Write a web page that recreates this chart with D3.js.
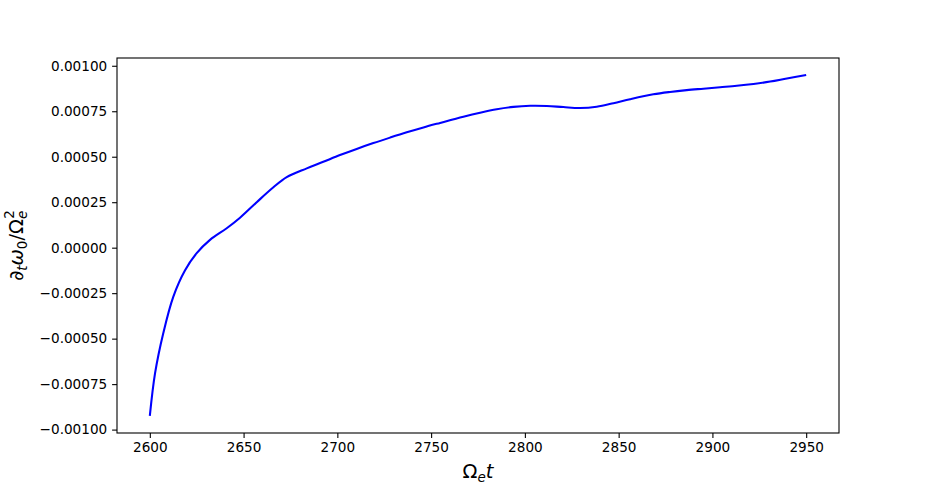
<!DOCTYPE html>
<html><head><meta charset="utf-8">
<script src="https://cdn.jsdelivr.net/npm/d3@7"></script>
<style>body{margin:0;background:#fff}svg{display:block}text{font-family:"DejaVu Sans",sans-serif}</style>
</head><body><svg id="c" width="932" height="487"></svg>
<script>
const tValues = [2600, 2602.8, 2607.2, 2612.5, 2618.8, 2625.0, 2632.1, 2641.0, 2648.1, 2657.0, 2665.9, 2673.0, 2683.7, 2692.5, 2701.4, 2710.3, 2719.2, 2728.1, 2737.0, 2745.9, 2754.8, 2767.2, 2776.1, 2785.0, 2793.9, 2802.8, 2811.7, 2820.5, 2829.4, 2838.3, 2847.2, 2856.1, 2868.5, 2877.4, 2886.3, 2895.2, 2904.1, 2913.0, 2921.9, 2930.8, 2939.7, 2950];
const dwValues = [-0.000925, -0.000690, -0.000469, -0.000270, -0.000124, -0.000030, 0.000043, 0.000107, 0.000165, 0.000250, 0.000332, 0.000388, 0.000436, 0.000472, 0.000509, 0.000543, 0.000575, 0.000605, 0.000634, 0.000661, 0.000686, 0.000720, 0.000742, 0.000761, 0.000774, 0.000780, 0.000779, 0.000773, 0.000768, 0.000775, 0.000794, 0.000816, 0.000843, 0.000856, 0.000866, 0.000874, 0.000882, 0.000890, 0.000900, 0.000913, 0.000930, 0.000949];
const xTicks = [2600, 2650, 2700, 2750, 2800, 2850, 2900, 2950];
const yTicks = [-0.001, -0.00075, -0.0005, -0.00025, 0, 0.00025, 0.0005, 0.00075, 0.001];

const L = 117, R = 839, T = 58, B = 433;
const svg = d3.select("#c");
const xr = d3.extent(tValues), yr = d3.extent(dwValues);
const xm = (xr[1]-xr[0])*0.05, ym = (yr[1]-yr[0])*0.05;
const x = d3.scaleLinear().domain([xr[0]-xm, xr[1]+xm]).range([L, R]);
const y = d3.scaleLinear().domain([yr[0]-ym, yr[1]+ym]).range([B, T]);

const fs = "13.6px";
const xa = svg.append("g").attr("transform", `translate(0,${B})`)
  .call(d3.axisBottom(x).tickValues(xTicks).tickSize(4.9).tickPadding(4.9).tickFormat(d3.format("d")));
const ya = svg.append("g").attr("transform", `translate(${L},0)`)
  .call(d3.axisLeft(y).tickValues(yTicks).tickSize(4.9).tickPadding(4.9).tickFormat(d3.format(".5f")));
[xa, ya].forEach(a => {
  a.select(".domain").remove();
  a.selectAll(".tick line").attr("stroke", "#000").attr("stroke-width", 1.1);
  a.selectAll(".tick text").attr("fill", "#000").style("font-size", fs).style("font-family", "DejaVu Sans");
});

const line = d3.line().x((d, i) => x(tValues[i])).y(d => y(d)).curve(d3.curveCatmullRom.alpha(0.5));
svg.append("path").datum(dwValues).attr("d", line).attr("fill", "none")
  .attr("stroke", "#0000ff").attr("stroke-width", 2.08).attr("stroke-linejoin", "round");

svg.append("rect").attr("x", L).attr("y", T).attr("width", R-L).attr("height", B-T)
  .attr("fill", "none").attr("stroke", "#000").attr("stroke-width", 1.1);

// x label
const xl = svg.append("text").attr("x", (L+R)/2).attr("y", 478).attr("text-anchor", "middle").style("font-size", "19.5px");
xl.append("tspan").text("Ω");
xl.append("tspan").attr("dy", 4).style("font-size", "13.5px").style("font-style", "italic").text("e");
xl.append("tspan").attr("dy", -4).style("font-style", "italic").text("t");

// y label
const yl = svg.append("text").attr("transform", `translate(23,${(T+B)/2}) rotate(-90)`).attr("text-anchor", "middle").style("font-size", "19.5px");
yl.append("tspan").text("∂");
yl.append("tspan").attr("dy", 4).style("font-size", "13.5px").style("font-style", "italic").text("t");
yl.append("tspan").attr("dy", -4).style("font-style", "italic").text("ω");
yl.append("tspan").attr("dy", 4).style("font-size", "13.5px").text("0");
yl.append("tspan").attr("dy", -4).text("/Ω");
yl.append("tspan").attr("dy", 4).style("font-size", "13.5px").style("font-style", "italic").text("e");
yl.append("tspan").attr("dx", -8).attr("dy", -13).style("font-size", "13.5px").text("2");
</script></body></html>
